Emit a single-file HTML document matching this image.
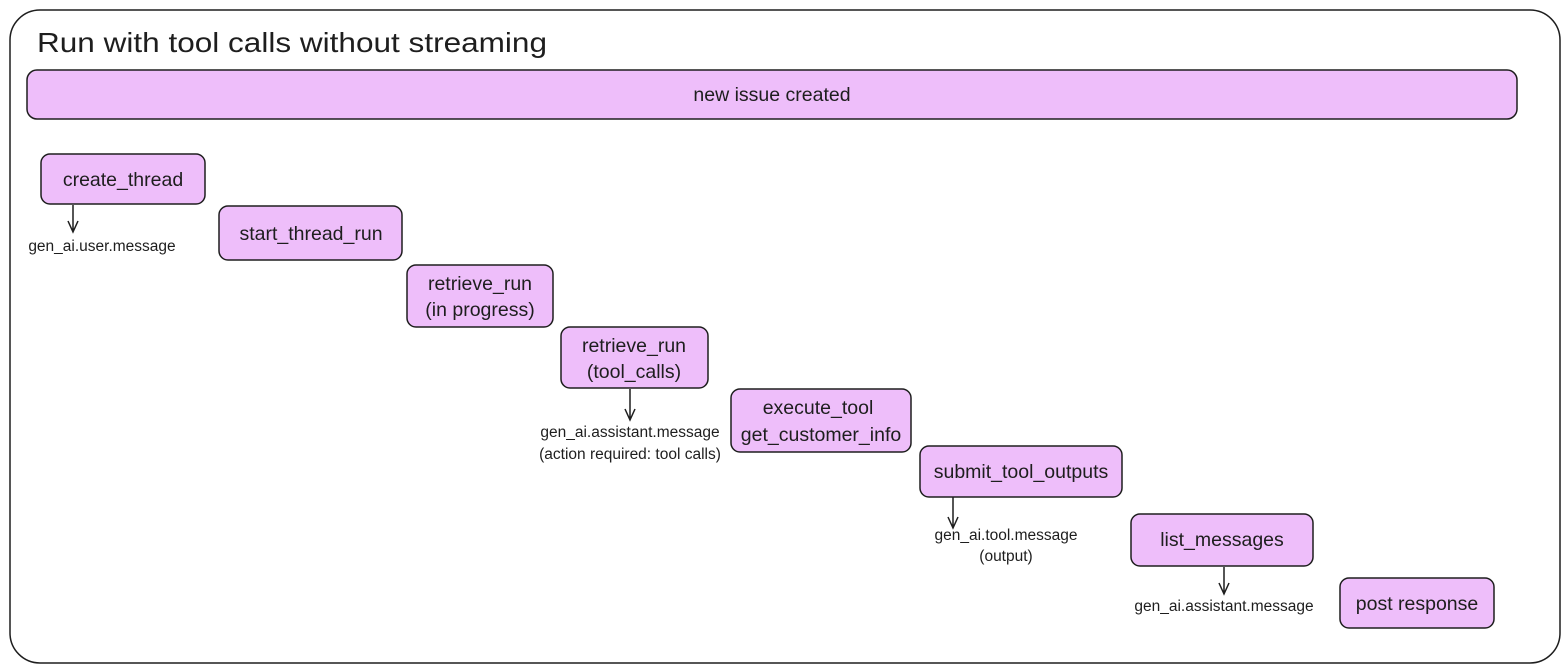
<!DOCTYPE html>
<html><head><meta charset="utf-8"><style>
html,body{margin:0;padding:0;background:#fff;width:1568px;height:672px;overflow:hidden}
svg{display:block}
text{font-family:"Liberation Sans",sans-serif;fill:#1e1e1e}
</style></head><body>
<svg width="1568" height="672" viewBox="0 0 1568 672">
<rect x="10" y="10" width="1550" height="653" rx="30" fill="#fff" stroke="#1e1e1e" stroke-width="1.5"/>
<text x="37" y="52" font-size="28" textLength="510" lengthAdjust="spacingAndGlyphs">Run with tool calls without streaming</text>
<g fill="#eebefa" stroke="#1e1e1e" stroke-width="1.5">
<rect x="27" y="70" width="1490" height="49" rx="10"/>
<rect x="41" y="154" width="164" height="50" rx="9"/>
<rect x="219" y="206" width="183" height="54" rx="9"/>
<rect x="407" y="265" width="146" height="62" rx="9"/>
<rect x="561" y="327" width="147" height="61" rx="9"/>
<rect x="731" y="389" width="180" height="63" rx="9"/>
<rect x="920" y="446" width="202" height="51" rx="9"/>
<rect x="1131" y="514" width="182" height="52" rx="9"/>
<rect x="1340" y="578" width="154" height="50" rx="9"/>
</g>
<g font-size="19.5" text-anchor="middle">
<text x="772" y="101">new issue created</text>
<text x="123" y="186">create_thread</text>
<text x="311" y="240">start_thread_run</text>
<text x="480" y="290">retrieve_run</text>
<text x="480" y="316">(in progress)</text>
<text x="634" y="352">retrieve_run</text>
<text x="634" y="378">(tool_calls)</text>
<text x="818" y="414">execute_tool</text>
<text x="821" y="441">get_customer_info</text>
<text x="1021" y="478">submit_tool_outputs</text>
<text x="1222" y="546">list_messages</text>
<text x="1417" y="610">post response</text>
</g>
<g stroke="#1e1e1e" stroke-width="1.5" fill="none">
<path d="M73 205 V232 M68 221 L73 232 L78 221"/>
<path d="M630 389 V420 M625 409 L630 420 L635 409"/>
<path d="M953 497 V528 M948 517 L953 528 L958 517"/>
<path d="M1224 567 V594 M1219 583 L1224 594 L1229 583"/>
</g>
<g font-size="15.5" text-anchor="middle" style="fill:#333">
<text x="102" y="251">gen_ai.user.message</text>
<text x="630" y="437">gen_ai.assistant.message</text>
<text x="630" y="459">(action required: tool calls)</text>
<text x="1006" y="540">gen_ai.tool.message</text>
<text x="1006" y="561">(output)</text>
<text x="1224" y="611">gen_ai.assistant.message</text>
</g>
</svg>
</body></html>
